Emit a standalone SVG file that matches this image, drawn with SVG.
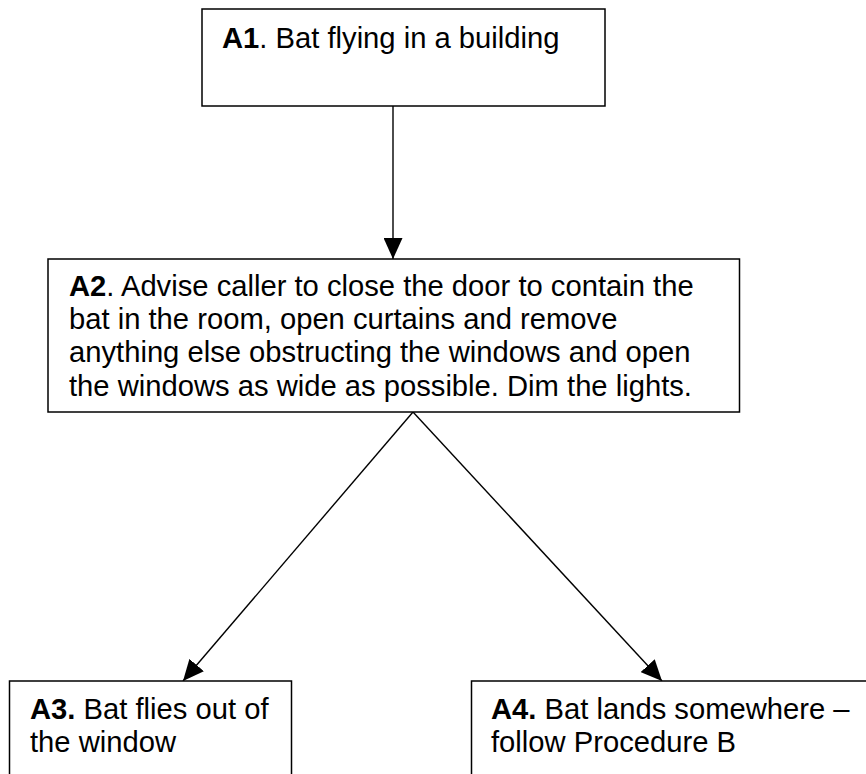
<svg xmlns="http://www.w3.org/2000/svg" width="866" height="774" viewBox="0 0 866 774">
  <style>
    .box { fill: #ffffff; stroke: #000000; stroke-width: 1.5; }
    .lbl { font-family: "Liberation Sans", Arial, sans-serif; font-size: 29.2px; fill: #000000; }
    .b { font-weight: bold; }
    .conn { stroke: #000000; stroke-width: 1.4; fill: none; marker-end: url(#arrow); }
  </style>
  <defs>
    <marker id="arrow" markerUnits="userSpaceOnUse" markerWidth="21" markerHeight="19" refX="21" refY="9.5" orient="auto">
      <path d="M0,0 L21,9.5 L0,19 z" fill="#000000"/>
    </marker>
    <clipPath id="clipA2">
      <rect x="48" y="259" width="692" height="143"/>
    </clipPath>
  </defs>
  <rect width="866" height="774" fill="#ffffff"/>

  <g id="connectors">
    <line class="conn" x1="393" y1="106" x2="393" y2="259"/>
    <line class="conn" x1="413" y1="412" x2="183" y2="681"/>
    <line class="conn" x1="413" y1="412" x2="662" y2="681"/>
  </g>

  <g id="A1">
    <rect class="box" x="202" y="9" width="403" height="97"/>
    <text class="lbl" x="222" y="47.5"><tspan class="b">A1</tspan>. Bat flying in a building</text>
  </g>

  <g id="A2">
    <rect class="box" x="48" y="259" width="691.5" height="153"/>
    <g clip-path="url(#clipA2)">
      <text class="lbl" x="69" y="295.5"><tspan class="b">A2</tspan>. Advise caller to close the door to contain the</text>
      <text class="lbl" x="69" y="329">bat in the room, open curtains and remove</text>
      <text class="lbl" x="69" y="362.3">anything else obstructing the windows and open</text>
      <text class="lbl" x="69" y="395.7">the windows as wide as possible. Dim the lights.</text>
    </g>
  </g>

  <g id="A3">
    <rect class="box" x="9.5" y="681" width="282" height="110"/>
    <text class="lbl" x="30" y="719"><tspan class="b">A3.</tspan> Bat flies out of</text>
    <text class="lbl" x="30" y="752">the window</text>
  </g>

  <g id="A4">
    <rect class="box" x="471.5" y="681" width="420" height="110"/>
    <text class="lbl" x="491" y="719"><tspan class="b">A4.</tspan> Bat lands somewhere –</text>
    <text class="lbl" x="491" y="752">follow Procedure B</text>
  </g>
</svg>
